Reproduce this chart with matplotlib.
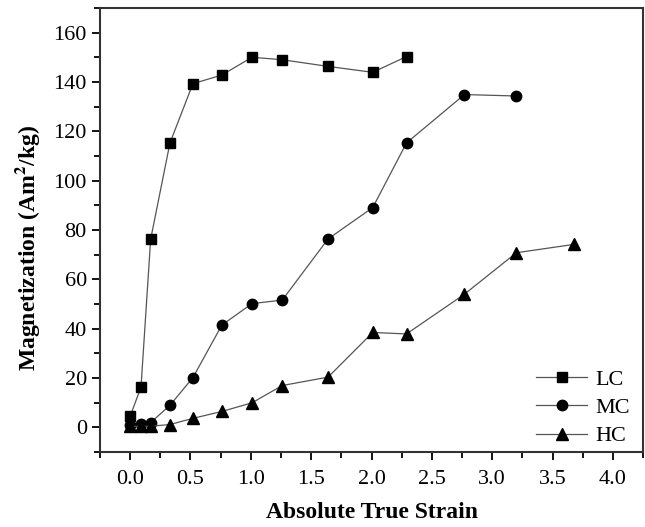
import matplotlib
matplotlib.use("Agg")
import matplotlib.pyplot as plt
from matplotlib.ticker import MultipleLocator

plt.rcParams["font.family"] = ["Liberation Serif", "DejaVu Serif"]
plt.rcParams["mathtext.fontset"] = "stix"

# strain values and magnetization for each carbon level
strain_lc = [0.0, 0.09, 0.17, 0.33, 0.52, 0.76, 1.01, 1.26, 1.64, 2.01, 2.29]
mag_lc = [4.5, 16.4, 76.3, 115.3, 139.3, 142.8, 150.0, 149.0, 146.3, 143.9, 150.3]

strain_mc = [0.0, 0.09, 0.17, 0.33, 0.52, 0.76, 1.01, 1.26, 1.64, 2.01, 2.29, 2.77, 3.20]
mag_mc = [1.0, 1.5, 2.0, 9.0, 20.2, 41.5, 50.2, 51.6, 76.4, 89.1, 115.3, 134.9, 134.3]

strain_hc = [0.0, 0.09, 0.17, 0.33, 0.52, 0.76, 1.01, 1.26, 1.64, 2.01, 2.29, 2.77, 3.20, 3.68]
mag_hc = [0.5, 0.5, 0.5, 1.2, 3.7, 6.5, 10.0, 17.0, 20.4, 38.5, 37.9, 54.0, 70.8, 74.2]

labels = ["LC", "MC", "HC"]

fig = plt.figure(figsize=(6.45, 5.27), dpi=100)
ax = fig.add_axes([0.155, 0.142, 0.842, 0.843])

line_kw = dict(color="#555555", linewidth=0.9, markerfacecolor="black",
               markeredgecolor="black")
ax.plot(strain_lc, mag_lc, marker="s", markersize=6.5, label=labels[0], **line_kw)
ax.plot(strain_mc, mag_mc, marker="o", markersize=7.5, label=labels[1], **line_kw)
ax.plot(strain_hc, mag_hc, marker="^", markersize=8.5, label=labels[2], **line_kw)

ax.set_xlim(-0.25, 4.25)
ax.set_ylim(-10, 170)
ax.xaxis.set_major_locator(MultipleLocator(0.5))
ax.xaxis.set_minor_locator(MultipleLocator(0.25))
ax.yaxis.set_major_locator(MultipleLocator(20))
ax.yaxis.set_minor_locator(MultipleLocator(10))
ax.xaxis.set_major_formatter(plt.FuncFormatter(lambda v, _: f"{v:.1f}"))
ax.set_yticks([0, 20, 40, 60, 80, 100, 120, 140, 160])

ax.tick_params(axis="both", which="major", direction="out", length=6, width=1.3,
               labelsize=16, top=False, right=False)
ax.tick_params(axis="x", which="major", pad=7)
ax.tick_params(axis="both", which="minor", direction="out", length=4, width=1.3,
               top=False, right=False)
for sp in ax.spines.values():
    sp.set_linewidth(1.5)
    sp.set_color("#333333")

ax.set_xlabel("Absolute True Strain", fontsize=17, fontweight="bold", labelpad=9)
ax.set_ylabel("Magnetization (Am$^{\\mathbf{2}}$/kg)", fontsize=17,
              fontweight="bold")
# label sits a little below the axis middle
ax.yaxis.set_label_coords(-0.107, 0.46)

ax.legend(loc="lower right", frameon=False, fontsize=16, numpoints=1,
          handlelength=2.3, handletextpad=0.35, labelspacing=0.35,
          bbox_to_anchor=(1.012, -0.032))

fig.savefig("out.png", dpi=100)
